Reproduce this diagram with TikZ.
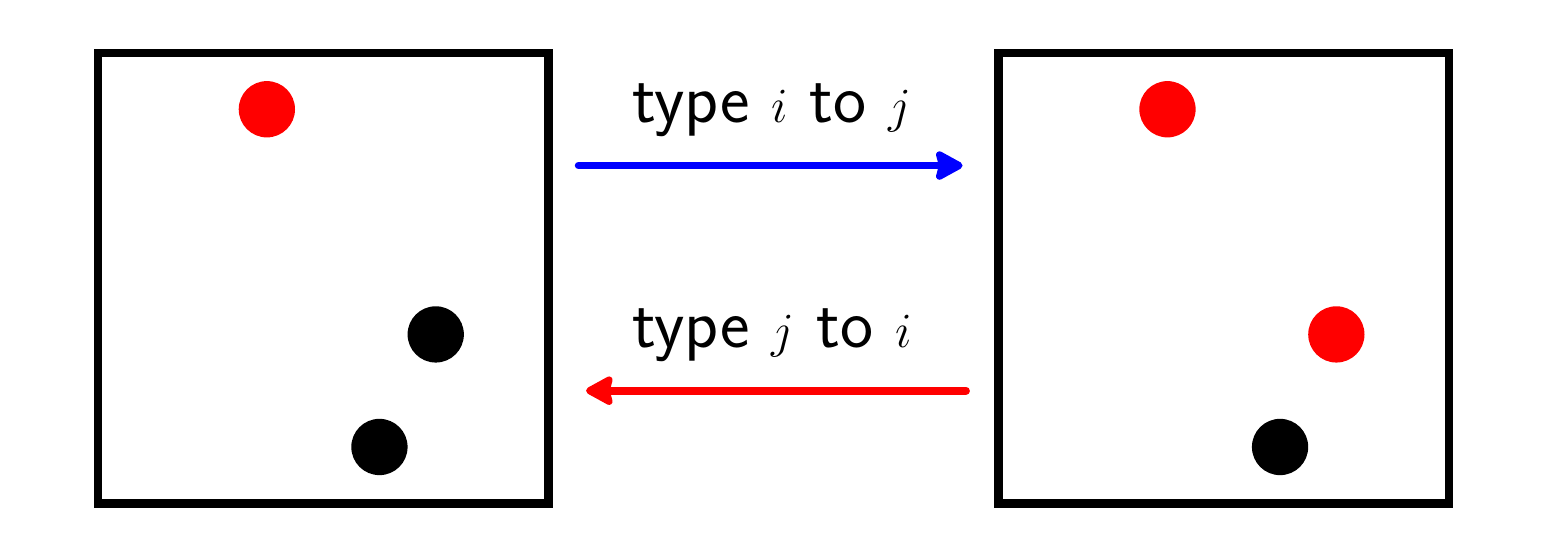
\documentclass[tikz,border=0pt]{standalone}
\usetikzlibrary{arrows.meta}
\begin{document}
\begin{tikzpicture}[line join=round, line cap=round, >={Stealth[length=16pt,width=17pt,inset=2pt,round]},
	font=\fontsize{35.5}{42}\selectfont\sffamily,
	box/.style={line width=4.3pt, line join=miter},
	move/.style={line width=4pt, ->, draw=#1}]
	\def\r{0.5} % dot radius
	\useasboundingbox (-1.741,-0.935) rectangle (25.76,8.941);
	% left state
	\draw[box] (0,0) rectangle (8,8);
	\fill[red] (3,7) circle (\r);
	\fill (6,3) circle (\r);
	\fill (5,1) circle (\r);
	% right state
	\draw[box] (16,0) rectangle (24,8);
	\fill[red] (19,7) circle (\r);
	\fill[red] (22,3) circle (\r);
	\fill (21,1) circle (\r);
	% moves
	\coordinate (fwdA) at (8.54,6); \coordinate (fwdB) at (15.36,6);
	\coordinate (bwdA) at (15.42,2); \coordinate (bwdB) at (8.67,2);
	\draw[move=blue] (fwdA)--(fwdB);
	\draw[move=red] (bwdA)--(bwdB);
	\node (fwd) at (11.97,6.76) [anchor=base] {type $i$ to $j$};
	\node (bwd) at (11.97,2.76) [anchor=base] {type $j$ to $i$};
\end{tikzpicture}
\end{document}
